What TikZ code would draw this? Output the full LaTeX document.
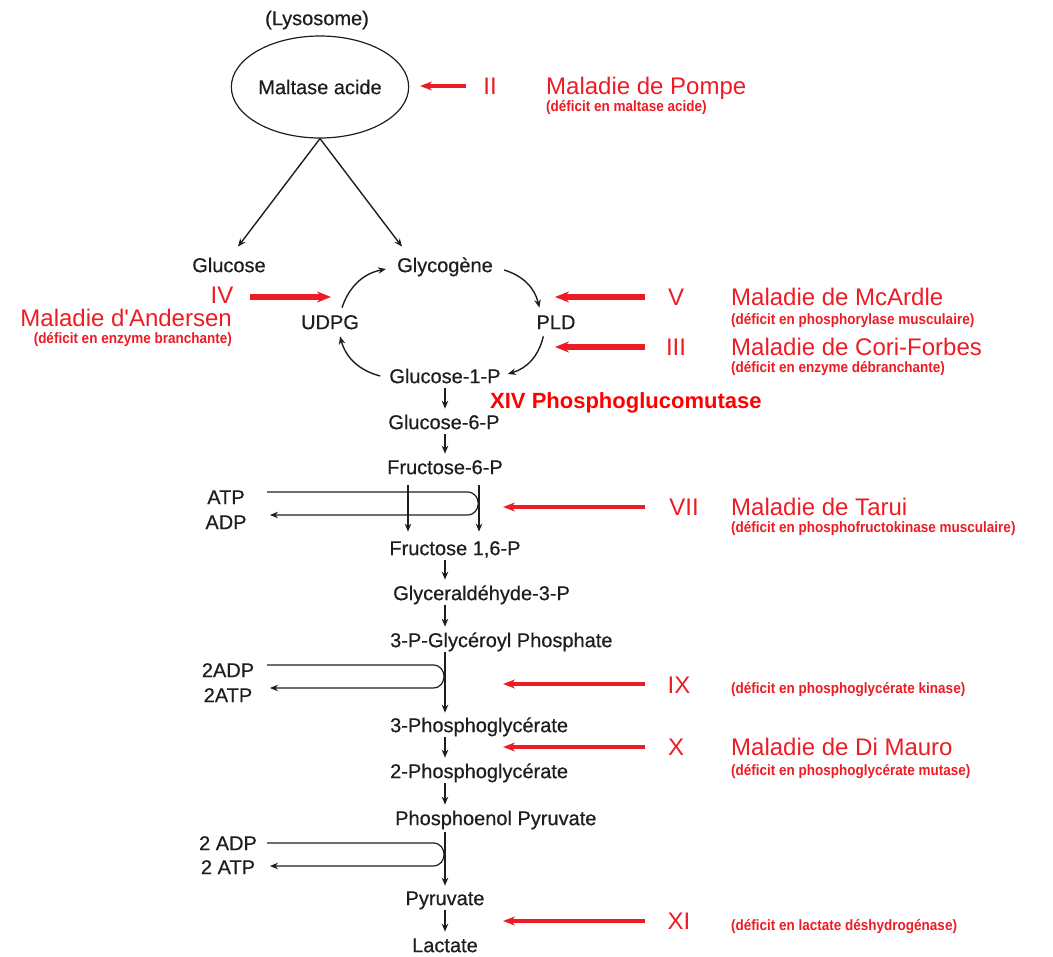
\documentclass[tikz,border=0pt]{standalone}
\usepackage{fontspec}
\setmainfont{Liberation Sans}
\newfontfamily\labfont{Liberation Sans}[FakeBold=0.5]
\newfontfamily\subfont{Liberation Sans}[FakeStretch=0.9]
\newfontfamily\headfont{Liberation Sans}
\usetikzlibrary{arrows.meta,shapes.geometric}
\definecolor{dred}{RGB}{236,28,36}
\definecolor{ink}{RGB}{30,30,30}
\begin{document}
\begin{tikzpicture}[x=1pt,y=-1pt,
  lab/.style={font=\labfont\fontsize{20}{24}\selectfont, text=ink, inner sep=1pt, text height=14.3pt, text depth=0pt},
  big/.style={font=\headfont\fontsize{24}{28}\selectfont, text=dred, inner sep=0pt, text height=17.2pt, text depth=0pt},
  sub/.style={font=\subfont\bfseries\fontsize{15}{18}\selectfont, text=dred, inner sep=0pt, text height=10.7pt, text depth=0pt},
  xiv/.style={font=\bfseries\fontsize{22}{26}\selectfont, text=red, inner sep=0pt, text height=15.8pt, text depth=0pt},
  arr/.style={draw=ink, line width=1.4pt, -{Stealth[length=8pt,width=6.5pt]}},
  colarr/.style={arr, shorten <=4pt, shorten >=5pt},
  loopline/.style={draw=ink, line width=1.2pt},
  redarr/.style={draw=dred, line width=4pt, -{Stealth[length=12pt,width=9pt]}},
  redthick/.style={draw=dred, line width=5.5pt, -{Stealth[length=14pt,width=11pt]}}
]
\useasboundingbox (0,0) rectangle (1053,957);

% columns
\coordinate (col) at (445,0);
\coordinate (cola) at (408,0);
\coordinate (colb) at (479,0);

% top
\node[lab] (lyso) at (317,18) {(Lysosome)};
\node[lab, draw=ink, line width=1.2pt, ellipse, minimum width=176pt, minimum height=102pt] (malt) at (320,87) {Maltase acide};

% cycle
\node[lab] (glucose) at (229,265) {Glucose};
\node[lab] (glycogene) at (445,265) {Glycogène};
\node[lab] (udpg) at (330,322) {UDPG};
\node[lab] (pld) at (556,322) {PLD};
\node[lab] (g1p) at (445,376) {Glucose-1-P};

\draw[arr] (malt.south) -- ([shift={(9,-10)}]glucose.north);
\draw[arr] (malt.south) -- ([shift={(6,-10)}]glycogene.north west);
\draw[arr] ([shift={(12,-6)}]udpg.north) to[bend left=30] ([shift={(-10,4)}]glycogene.west);
\draw[arr] ([shift={(10,5)}]glycogene.east) to[bend left=30] ([shift={(4,-6)}]pld.north west);
\draw[arr] ([shift={(8,6)}]pld.south west) to[bend left=30] ([shift={(6,-2)}]g1p.east);
\draw[arr] ([shift={(-8,0)}]g1p.west) to[bend left=30] ([shift={(10,6)}]udpg.south);

% main column
\node[lab] (g6p) at (444,422) {Glucose-6-P};
\node[lab] (f6p) at (445,467) {Fructose-6-P};
\node[lab] (f16p) at (455,548) {Fructose 1,6-P};
\node[lab, anchor=west] (gap) at (392,593) {Glyceraldéhyde-3-P};
\node[lab, anchor=west] (bpg) at (389,640) {3-P-Glycéroyl Phosphate};
\node[lab, anchor=west] (pg3) at (389,725) {3-Phosphoglycérate};
\node[lab, anchor=west] (pg2) at (389,771) {2-Phosphoglycérate};
\node[lab, anchor=west] (pep) at (394,818) {Phosphoenol Pyruvate};
\node[lab] (pyr) at (445,898) {Pyruvate};
\node[lab] (lac) at (445,945) {Lactate};

\draw[colarr] (g1p.south -| col) -- (g6p.north -| col);
\draw[colarr] (g6p.south -| col) -- (f6p.north -| col);
\draw[colarr] (f16p.south -| col) -- (gap.north -| col);
\draw[colarr] (gap.south -| col) -- (bpg.north -| col);
\draw[colarr] (pg3.south -| col) -- (pg2.north -| col);
\draw[colarr] (pg2.south -| col) -- (pep.north -| col);
\draw[colarr] (pyr.south -| col) -- (lac.north -| col);

% ATP / ADP loop
\node[lab] (atp) at (226,497) {ATP};
\node[lab] (adp) at (226,522) {ADP};
\coordinate (atpS) at (267,492);
\coordinate (adpE) at (270,515);
\draw[loopline, -{Stealth[length=8pt,width=6.5pt]}] (atpS) -- (467,492) .. controls (482,492) and (482,515) .. (467,515) -- (adpE);
\draw[arr, shorten <=10pt, shorten >=8pt] (f6p.south -| cola) -- (f16p.north -| cola);
\draw[arr, shorten <=10pt, shorten >=8pt] (f6p.south -| colb) -- (f16p.north -| colb);

% 2ADP / 2ATP loop
\node[lab] (adp2) at (228,670) {2ADP};
\node[lab] (atp2) at (228,695) {2ATP};
\coordinate (adp2S) at (267,665);
\coordinate (atp2E) at (270,688);
\draw[loopline, -{Stealth[length=8pt,width=6.5pt]}] (adp2S) -- (433,665) .. controls (447.7,665) and (447.7,688) .. (433,688) -- (atp2E);
\draw[arr, shorten <=4pt, shorten >=4pt] (bpg.south -| col) -- (pg3.north -| col);

% 2 ADP / 2 ATP loop
\node[lab] (adp3) at (228,843) {2 ADP};
\node[lab] (atp3) at (228,867) {2 ATP};
\coordinate (adp3S) at (267,843);
\coordinate (atp3E) at (270,866);
\draw[loopline, -{Stealth[length=8pt,width=6.5pt]}] (adp3S) -- (433,843) .. controls (447.7,843) and (447.7,866) .. (433,866) -- (atp3E);
\draw[arr, shorten <=6pt, shorten >=4pt] (pep.south -| col) -- (pyr.north -| col);

% red annotations
\node[big] (n2) at (490,86) {II};
\node[big, anchor=west] (pompe) at (546,86) {Maladie de Pompe};
\node[sub, anchor=west] (pompes) at (546,106) {(déficit en maltase acide)};
\coordinate (n2T) at (466,86);
\coordinate (n2H) at (420,86);
\draw[redarr] (n2T) -- (n2H);

\node[big] (n4) at (222,295) {IV};
\node[big, anchor=east] (andersen) at (232,318) {Maladie d'Andersen};
\node[sub, anchor=east] (andersens) at (232,338) {(déficit en enzyme branchante)};
\coordinate (n4T) at (250,297);
\coordinate (n4H) at (331,297);
\draw[redthick] (n4T) -- (n4H);

\node[big] (n5) at (676,297) {V};
\node[big, anchor=west] (mcardle) at (731,297) {Maladie de McArdle};
\node[sub, anchor=west] (mcardles) at (731,319) {(déficit en phosphorylase musculaire)};
\coordinate (n5T) at (645,297);
\coordinate (n5H) at (555,297);
\draw[redthick] (n5T) -- (n5H);

\node[big] (n3) at (676,347) {III};
\node[big, anchor=west] (cori) at (731,347) {Maladie de Cori-Forbes};
\node[sub, anchor=west] (coris) at (731,367) {(déficit en enzyme débranchante)};
\coordinate (n3T) at (645,347);
\coordinate (n3H) at (555,347);
\draw[redthick] (n3T) -- (n3H);

\node[xiv, anchor=west] (n14) at (490,401) {XIV Phosphoglucomutase};

\node[big] (n7) at (684,507) {VII};
\node[big, anchor=west] (tarui) at (731,507) {Maladie de Tarui};
\node[sub, anchor=west] (taruis) at (731,527) {(déficit en phosphofructokinase musculaire)};
\coordinate (n7T) at (645,507);
\coordinate (n7H) at (503,507);
\draw[redarr] (n7T) -- (n7H);

\node[big] (n9) at (679,685) {IX};
\node[sub, anchor=west] (n9s) at (731,688) {(déficit en phosphoglycérate kinase)};
\coordinate (n9T) at (645,684);
\coordinate (n9H) at (503,684);
\draw[redarr] (n9T) -- (n9H);

\node[big] (n10) at (676,747) {X};
\node[big, anchor=west] (mauro) at (731,747) {Maladie de Di Mauro};
\node[sub, anchor=west] (mauros) at (731,770) {(déficit en phosphoglycérate mutase)};
\coordinate (n10T) at (645,747);
\coordinate (n10H) at (503,747);
\draw[redarr] (n10T) -- (n10H);

\node[big] (n11) at (679,921) {XI};
\node[sub, anchor=west] (n11s) at (731,925) {(déficit en lactate déshydrogénase)};
\coordinate (n11T) at (645,921);
\coordinate (n11H) at (503,921);
\draw[redarr] (n11T) -- (n11H);
\end{tikzpicture}
\end{document}
